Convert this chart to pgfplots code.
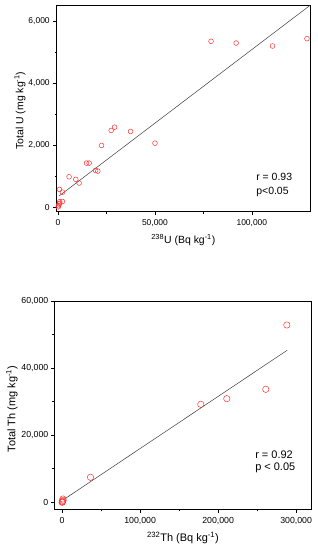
\documentclass[border=0pt]{standalone}
\usepackage{pgfplots}
\pgfplotsset{compat=1.18}
\usepackage{fontspec}
\setmainfont{Liberation Sans}
\definecolor{ptred}{RGB}{255,50,50}
\definecolor{fitgray}{RGB}{60,60,60}
\pgfplotsset{
  myaxis/.style={
    scale only axis,
    anchor=south west,
    axis line style={line width=0.8pt, black},
    tick align=outside,
    xtick pos=bottom, ytick pos=left,
    major tick length=3.5bp, minor tick length=2bp,
    every tick/.style={black, line width=0.6pt},
    minor x tick num=1, minor y tick num=1,
    scaled ticks=false,
    xticklabel style={yshift=-1bp},
  },
  pts/.style={only marks, mark=o, mark options={draw=ptred, line width=0.5pt}},
  fit/.style={no marks, draw=fitgray, line width=0.5pt},
}
\begin{document}
\begin{tikzpicture}
\useasboundingbox (0,0) rectangle (318bp,550bp);
% ---------- top panel ----------
\begin{axis}[myaxis,
  at={(56.7bp,338.3bp)}, width=253.3bp, height=206.3bp,
  xmin=-700, xmax=130000, ymin=-135, ymax=6515,
  xtick={0,50000,100000}, ytick={0,2000,4000,6000},
  xticklabels={0,{50,000},{100,000}},
  yticklabels={0,{2,000},{4,000},{6,000}},
  tick label style={font=\fontsize{8.5}{10}\selectfont},
  label style={font=\fontsize{10.5}{12}\selectfont},
  xlabel={\textsuperscript{238}U (Bq kg\textsuperscript{-1})},
  ylabel={Total U (mg kg\textsuperscript{-1})},
  xlabel style={at={(axis description cs:0.5,-0.137)}, anchor=center},
  ylabel style={at={(axis description cs:-0.145,0.49)}, anchor=center},
]
\addplot[fit] coordinates {(500,370) (130000,6515)};
\addplot[pts, mark size=2.4bp] coordinates {
(78950,5357) (91880,5302) (110650,5206) (128430,5443)
(50000,2075) (37430,2451) (29160,2590) (27400,2484) (22440,2001)
(14680,1432) (16040,1432) (19340,1197) (20530,1174)
(5690,991) (9150,907) (10860,788)
(700,585) (2270,495)
(2270,195) (880,187) (520,110) (200,58) (880,135) (100,20)
};
\node[anchor=west, font=\fontsize{10.5}{12}\selectfont] at (axis cs:100500,981) {r = 0.93};
\node[anchor=west, font=\fontsize{10.5}{12}\selectfont] at (axis cs:100500,499) {p<0.05};
\end{axis}
% ---------- bottom panel ----------
\begin{axis}[myaxis,
  at={(54.3bp,41bp)}, width=257.4bp, height=208bp,
  xmin=-10000, xmax=320000, ymin=-2000, ymax=60000,
  xtick={0,100000,200000,300000}, ytick={0,20000,40000,60000},
  xticklabels={0,{100,000},{200,000},{300,000}},
  yticklabels={0,{20,000},{40,000},{60,000}},
  tick label style={font=\fontsize{8.8}{10.5}\selectfont},
  yticklabel style={xshift=1bp},
  label style={font=\fontsize{11}{13}\selectfont},
  xlabel={\textsuperscript{232}Th (Bq kg\textsuperscript{-1})},
  ylabel={Total Th (mg kg\textsuperscript{-1})},
  xlabel style={at={(axis description cs:0.5,-0.139)}, anchor=center},
  ylabel style={at={(axis description cs:-0.165,0.48)}, anchor=center},
]
\addplot[fit] coordinates {(1300,690) (288500,45300)};
\addplot[pts, mark size=3.2bp] coordinates {
(288100,52850) (261150,33680) (211150,30880) (177800,29210)
(36400,7450) (1000,980) (0,0) (600,300) (1300,600) (300,100)
};
\node[anchor=west, font=\fontsize{11}{13}\selectfont] at (axis cs:243200,14190) {r = 0.92};
\node[anchor=west, font=\fontsize{11}{13}\selectfont] at (axis cs:243200,10220) {p < 0.05};
\end{axis}
\end{tikzpicture}
\end{document}
